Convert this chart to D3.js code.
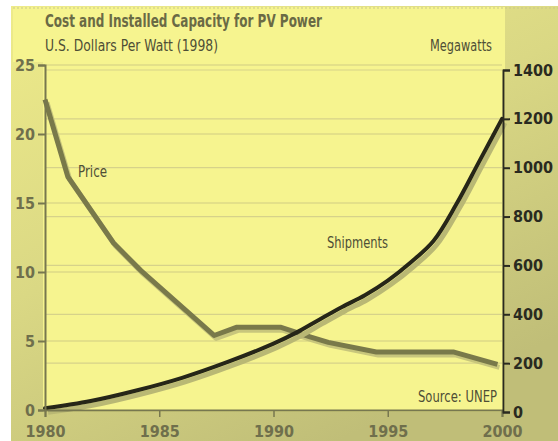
<!DOCTYPE html>
<html><head><meta charset="utf-8">
<script src="https://cdn.jsdelivr.net/npm/d3@7"></script>
<style>
html,body{margin:0;padding:0;background:#fff;}
svg{display:block;}
text{font-family:"DejaVu Sans Condensed","Liberation Sans Narrow",sans-serif;}
</style></head>
<body>
<svg id="chart" width="558" height="441"></svg>
<script>
const title = "Cost and Installed Capacity for PV Power";
const subtitle = "U.S. Dollars Per Watt (1998)";
const rightTitle = "Megawatts";
const source = "Source: UNEP";

const priceYears  = [1980, 1981, 1983, 1984.2, 1987.4, 1988.4, 1990.3, 1991.6, 1992.4, 1994.5, 1997.9, 1999.8];
const priceValues = [22.5, 16.9, 12.1, 10.1,   5.4,    6.0,    6.0,    5.3,    4.9,    4.2,    4.2,    3.3];

const shipYears  = [1980, 1982, 1984, 1986, 1988, 1990, 1991, 1992, 1993, 1994, 1995, 1996, 1997, 1998, 1999, 2000];
const shipValues = [15,   45,   88,   140,  205,  280,  325,  378,  430,  478,  538,  612,  700,  850,  1025, 1200];

const xTicks = [1980, 1985, 1990, 1995, 2000];
const leftTicks = [0, 5, 10, 15, 20, 25];
const rightTicks = [0, 200, 400, 600, 800, 1000, 1200, 1400];

const svg = d3.select("#chart");
const W = 558, H = 441;
const defs = svg.append("defs");
const g1 = defs.append("linearGradient").attr("id","bg").attr("x1","0").attr("y1","0").attr("x2","0.6").attr("y2","1");
g1.append("stop").attr("offset","0").attr("stop-color","#eeeb8a");
g1.append("stop").attr("offset","0.5").attr("stop-color","#dad884");
g1.append("stop").attr("offset","1").attr("stop-color","#c0be78");

svg.append("rect").attr("x",0).attr("y",0).attr("width",W).attr("height",H).attr("fill","#ffffff");
svg.append("rect").attr("x",11).attr("y",6).attr("width",W-11).attr("height",H-6).attr("fill","url(#bg)");

const x = d3.scaleLinear().domain([1980, 2000]).range([45, 502]);
const yL = d3.scaleLinear().domain([0, 25]).range([410, 65]);
const yR = d3.scaleLinear().domain([0, 1400]).range([412, 70]);

// bright area: title band + plot
svg.append("path")
  .attr("d", `M13,7 H505 V${yL(0)+2} H${x(1980)-2} V62 H13 Z`)
  .attr("fill","#f6f48f");
svg.append("line").attr("x1",13).attr("x2",W).attr("y1",8).attr("y2",8)
  .attr("stroke","#c9c78a").attr("stroke-dasharray","2,2").attr("stroke-width",1);

// gridlines
const grid = svg.append("g");
grid.selectAll("line.gl").data(leftTicks.filter(d=>d>0)).enter().append("line")
  .attr("x1",x(1980)).attr("x2",x(2000)).attr("y1",d=>yL(d)).attr("y2",d=>yL(d))
  .attr("stroke","#cfcb84").attr("stroke-width",1.2);
grid.selectAll("line.gr").data(rightTicks.filter(d=>d>0)).enter().append("line")
  .attr("x1",x(1980)).attr("x2",x(2000)).attr("y1",d=>yR(d)).attr("y2",d=>yR(d))
  .attr("stroke","#d6d28a").attr("stroke-width",1.2);

// lines
const priceLine = d3.line().x((d,i)=>x(priceYears[i])).y(d=>yL(d));
const shipLine = d3.line().x((d,i)=>x(shipYears[i])).y(d=>yR(d)).curve(d3.curveCatmullRom.alpha(0.5));

svg.append("path").datum(priceValues).attr("d",priceLine).attr("fill","none")
  .attr("stroke","#c8c67c").attr("stroke-width",5).attr("transform","translate(2,3)").attr("stroke-linejoin","round");
svg.append("path").datum(priceValues).attr("d",priceLine).attr("fill","none")
  .attr("stroke","#79794a").attr("stroke-width",5).attr("stroke-linejoin","round");

svg.append("path").datum(shipValues).attr("d",shipLine).attr("fill","none")
  .attr("stroke","#b9b874").attr("stroke-width",5).attr("transform","translate(3,4)");
svg.append("path").datum(shipValues).attr("d",shipLine).attr("fill","none")
  .attr("stroke","#262618").attr("stroke-width",4).attr("stroke-linecap","round");

// axes
const axL = svg.append("g").attr("transform",`translate(${x(1980)},0)`)
  .call(d3.axisLeft(yL).tickValues(leftTicks).tickSize(7).tickPadding(3).tickFormat(d3.format("d")));
axL.select(".domain").attr("stroke","#77774f").attr("stroke-width",2);
axL.selectAll(".tick line").attr("stroke","#77774f").attr("stroke-width",2);
axL.selectAll("text").attr("fill","#6f6f4c").attr("font-size",16).attr("font-weight","bold");

const axB = svg.append("g").attr("transform",`translate(0,${yL(0)})`)
  .call(d3.axisBottom(x).tickValues(xTicks).tickSize(7).tickFormat(d3.format("d")));
axB.select(".domain").attr("stroke","#77774f").attr("stroke-width",2);
axB.selectAll(".tick line").attr("stroke","#77774f").attr("stroke-width",1.5);
axB.selectAll("text").attr("fill","#6f6f4c").attr("font-size",16).attr("font-weight","bold")
  .attr("y",27).attr("dy",0);

const axR = svg.append("g").attr("transform",`translate(${x(2000)+1},0)`)
  .call(d3.axisRight(yR).tickValues(rightTicks).tickSize(7).tickPadding(3).tickFormat(d3.format("d")));
axR.select(".domain").attr("stroke","#2a2a20").attr("stroke-width",2);
axR.selectAll(".tick line").attr("stroke","#2a2a20").attr("stroke-width",2);
axR.selectAll("text").attr("fill","#2a2a20").attr("font-size",16).attr("font-weight","bold");

// texts
function label(txt, xx, yy, len, size, opts) {
  const t = svg.append("text").attr("x",xx).attr("y",yy).text(txt)
    .attr("font-size",size).attr("fill",opts.fill || "#4e4e36")
    .attr("textLength",len).attr("lengthAdjust","spacingAndGlyphs");
  if (opts.bold) t.attr("font-weight","bold");
  return t;
}
label(title, 45, 27, 277, 17, {bold:true, fill:"#6a6a45"});
label(subtitle, 45, 51, 173, 15, {});
label(rightTitle, 430, 51, 62, 15, {});
label("Price", 78, 177, 29, 15, {});
label("Shipments", 327, 248, 61, 15, {});
label(source, 418, 402, 79, 15, {});
</script>
</body></html>
